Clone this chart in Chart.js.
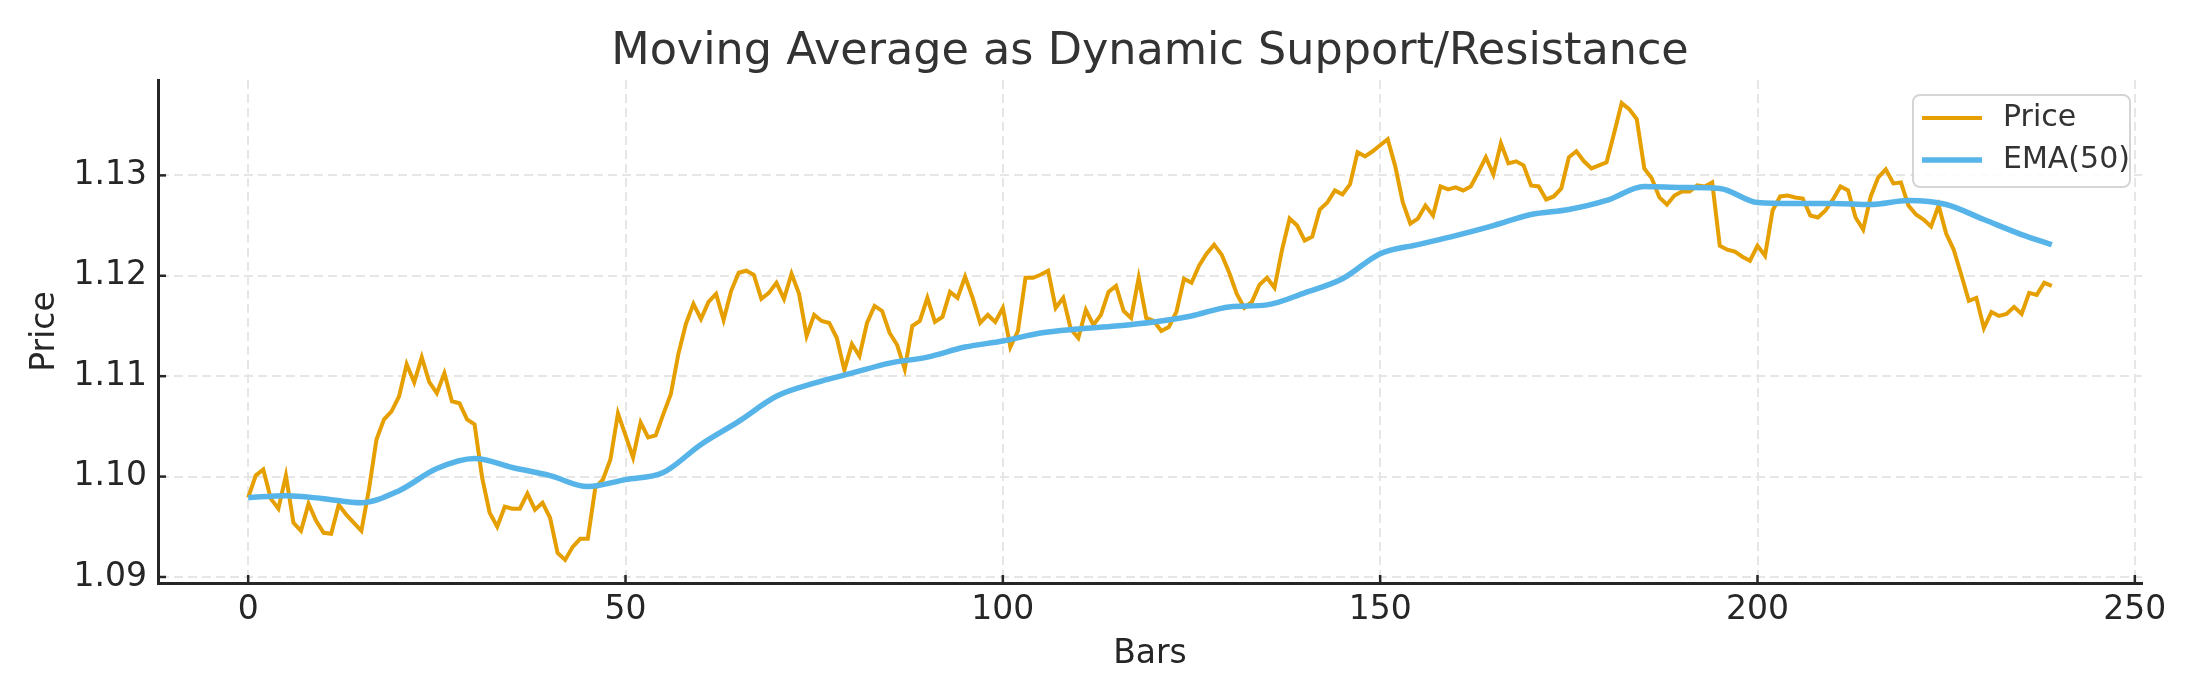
<!DOCTYPE html>
<html>
<head>
<meta charset="utf-8">
<title>Moving Average as Dynamic Support/Resistance</title>
<script src="https://cdn.jsdelivr.net/npm/chart.js@4.4.1/dist/chart.umd.min.js"></script>
<style>
  body { margin: 0; background: #fff; }
  #wrap { width: 2200px; height: 700px; }
</style>
</head>
<body>
<div id="wrap"><canvas id="maChart" width="2200" height="700"></canvas></div>
<script>
// price per bar (bar index = position in the array)
const priceValues = [
  1.0979, 1.1001, 1.1007, 1.0978, 1.0968, 1.1001, 1.0954, 1.0946, 1.0973, 1.0956,
  1.0944, 1.0943, 1.0972, 1.0962, 1.0954, 1.0946, 1.0987, 1.1037, 1.1057, 1.1065,
  1.1080, 1.1112, 1.1094, 1.1119, 1.1094, 1.1083, 1.1103, 1.1075, 1.1073, 1.1057,
  1.1052, 1.0999, 1.0964, 1.0950, 1.0970, 1.0968, 1.0968, 1.0983, 1.0967, 1.0974,
  1.0959, 1.0924, 1.0917, 1.0930, 1.0938, 1.0938, 1.0989, 1.0997, 1.1017, 1.1063,
  1.1041, 1.1019, 1.1054, 1.1039, 1.1041, 1.1062, 1.1082, 1.1122, 1.1152, 1.1172,
  1.1157, 1.1174, 1.1182, 1.1156, 1.1185, 1.1203, 1.1205, 1.1201, 1.1177, 1.1183,
  1.1193, 1.1177, 1.1202, 1.1182, 1.1140, 1.1161, 1.1155, 1.1153, 1.1138, 1.1106,
  1.1132, 1.1120, 1.1153, 1.1170, 1.1165, 1.1143, 1.1131, 1.1107, 1.1150, 1.1155,
  1.1178, 1.1154, 1.1159, 1.1184, 1.1178, 1.1199, 1.1178, 1.1153, 1.1161, 1.1154,
  1.1168, 1.1129, 1.1145, 1.1198, 1.1198, 1.1201, 1.1205, 1.1168, 1.1178, 1.1147,
  1.1138, 1.1166, 1.1151, 1.1161, 1.1184, 1.1190, 1.1165, 1.1158, 1.1198, 1.1158,
  1.1155, 1.1145, 1.1149, 1.1164, 1.1197, 1.1193, 1.1210, 1.1222, 1.1231, 1.1221,
  1.1203, 1.1182, 1.1168, 1.1174, 1.1191, 1.1198, 1.1188, 1.1226, 1.1257, 1.1250,
  1.1235, 1.1239, 1.1266, 1.1273, 1.1285, 1.1281, 1.1291, 1.1323, 1.1319, 1.1324,
  1.1330, 1.1336, 1.1309, 1.1273, 1.1252, 1.1257, 1.1270, 1.1260, 1.1289, 1.1286,
  1.1288, 1.1285, 1.1289, 1.1303, 1.1318, 1.1301, 1.1332, 1.1312, 1.1314, 1.1310,
  1.1290, 1.1289, 1.1276, 1.1279, 1.1287, 1.1318, 1.1324, 1.1314, 1.1307, 1.1310,
  1.1313, 1.1342, 1.1372, 1.1366, 1.1356, 1.1307, 1.1297, 1.1278, 1.1271, 1.1280,
  1.1284, 1.1284, 1.1290, 1.1289, 1.1293, 1.1230, 1.1226, 1.1224, 1.1219, 1.1215,
  1.1230, 1.1220, 1.1265, 1.1279, 1.1280, 1.1278, 1.1277, 1.1260, 1.1258, 1.1265,
  1.1276, 1.1289, 1.1285, 1.1258, 1.1246, 1.1279, 1.1298, 1.1306, 1.1292, 1.1293,
  1.1270, 1.1261, 1.1256, 1.1249, 1.1270, 1.1242, 1.1226, 1.1201, 1.1175, 1.1178,
  1.1148, 1.1164, 1.1160, 1.1162, 1.1169, 1.1162, 1.1183, 1.1181, 1.1193, 1.1190
];
const priceBars = priceValues.map((v, i) => i);

// EMA(50) every few bars
const emaBars = [0, 5, 10, 15, 20, 25, 30, 35, 40, 45, 50, 55, 60, 65, 70, 75, 80, 85, 90, 95,
  100, 105, 110, 115, 120, 125, 130, 135, 140, 145, 150, 155, 160, 165, 170, 175, 180, 185,
  190, 195, 200, 205, 210, 215, 220, 225, 230, 235, 239];
const emaValues = [1.0979, 1.0981, 1.0978, 1.0974, 1.0986, 1.1008, 1.1018, 1.1009, 1.1001, 1.0990,
  1.0997, 1.1004, 1.1032, 1.1055, 1.1080, 1.1093, 1.1103, 1.1113, 1.1119, 1.1129,
  1.1135, 1.1143, 1.1147, 1.1150, 1.1154, 1.1160, 1.1169, 1.1171, 1.1183, 1.1197,
  1.1222, 1.1231, 1.1240, 1.1250, 1.1261, 1.1266, 1.1275, 1.1289, 1.1288, 1.1287,
  1.1273, 1.1272, 1.1272, 1.1271, 1.1275, 1.1271, 1.1256, 1.1241, 1.1231];

const xTicksStep = 50;
const yTicksStep = 0.01;

const FONT = "'DejaVu Sans', 'Liberation Sans', sans-serif";
const TEXT = "#262626";

// matplotlib style ticks pointing inwards + framed legend
const mplExtras = {
  id: "mplExtras",
  afterDraw(chart) {
    const ctx = chart.ctx;
    const area = chart.chartArea;
    const xs = chart.scales.x;
    const ys = chart.scales.y;

    ctx.save();
    ctx.strokeStyle = TEXT;
    ctx.lineWidth = 2.5;
    xs.ticks.forEach((t) => {
      const px = xs.getPixelForValue(t.value);
      ctx.beginPath();
      ctx.moveTo(px, area.bottom);
      ctx.lineTo(px, area.bottom - 8);
      ctx.stroke();
    });
    ys.ticks.forEach((t) => {
      const py = ys.getPixelForValue(t.value);
      ctx.beginPath();
      ctx.moveTo(area.left, py);
      ctx.lineTo(area.left + 8, py);
      ctx.stroke();
    });

    // legend box
    const w = 217, h = 92;
    const lx = area.right - 12 - w;
    const ly = area.top + 15;
    ctx.beginPath();
    ctx.roundRect(lx, ly, w, h, 7);
    ctx.fillStyle = "rgba(255,255,255,0.85)";
    ctx.fill();
    ctx.strokeStyle = "#d5d5d5";
    ctx.lineWidth = 2;
    ctx.stroke();

    ctx.font = "30px " + FONT;
    ctx.textBaseline = "middle";
    chart.data.datasets.forEach((ds, i) => {
      const rowY = ly + 23 + i * 42;
      ctx.strokeStyle = ds.borderColor;
      ctx.lineWidth = ds.borderWidth;
      ctx.beginPath();
      ctx.moveTo(lx + 9, rowY);
      ctx.lineTo(lx + 69, rowY);
      ctx.stroke();
      ctx.fillStyle = "#333333";
      ctx.fillText(ds.label, lx + 90, rowY);
    });
    ctx.restore();
  }
};

const ctx = document.getElementById("maChart").getContext("2d");

new Chart(ctx, {
  type: "line",
  data: {
    datasets: [
      {
        label: "Price",
        data: priceBars.map((b, i) => ({ x: b, y: priceValues[i] })),
        borderColor: "#E69F00",
        borderWidth: 4,
        pointRadius: 0,
        tension: 0,
        order: 2
      },
      {
        label: "EMA(50)",
        data: emaBars.map((b, i) => ({ x: b, y: emaValues[i] })),
        borderColor: "#56B4E9",
        borderWidth: 5.5,
        pointRadius: 0,
        cubicInterpolationMode: "monotone",
        order: 1
      }
    ]
  },
  options: {
    responsive: false,
    animation: false,
    devicePixelRatio: 1,
    layout: { padding: { left: 0, right: 58, top: 0, bottom: 0 } },
    plugins: {
      legend: { display: false },
      tooltip: { enabled: false },
      title: {
        display: true,
        fullSize: false,
        text: "Moving Average as Dynamic Support/Resistance",
        color: "#333333",
        font: { family: FONT, size: 44.5, weight: "normal" },
        padding: { top: 26, bottom: 0.6 }
      }
    },
    scales: {
      x: {
        type: "linear",
        min: -11.95,
        max: 250.95,
        afterFit(scale) {
          scale.height = 117;
          scale.paddingLeft = 0;
          scale.paddingRight = 0;
        },
        ticks: {
          stepSize: xTicksStep,
          includeBounds: false,
          color: TEXT,
          padding: 8,
          maxRotation: 0,
          font: { family: FONT, size: 33 },
          callback: (v) => String(v)
        },
        grid: { color: "#e6e6e6", lineWidth: 2, drawTicks: false },
        border: { display: true, color: TEXT, width: 3, dash: [9, 5] },
        title: {
          display: true,
          text: "Bars",
          color: TEXT,
          font: { family: FONT, size: 33 },
          padding: { top: 0, bottom: 26 }
        }
      },
      y: {
        type: "linear",
        min: 1.0894,
        max: 1.1395,
        afterFit(scale) {
          scale.width = 158;
          scale.paddingTop = 0;
          scale.paddingBottom = 0;
        },
        ticks: {
          stepSize: yTicksStep,
          includeBounds: false,
          color: TEXT,
          padding: 11,
          font: { family: FONT, size: 33 },
          callback: (v) => Number(v).toFixed(2)
        },
        grid: { color: "#e6e6e6", lineWidth: 2, drawTicks: false },
        border: { display: true, color: TEXT, width: 3, dash: [9, 5] },
        title: {
          display: true,
          text: "Price",
          color: TEXT,
          font: { family: FONT, size: 33 },
          padding: { top: 26, bottom: 0 }
        }
      }
    }
  },
  plugins: [mplExtras]
});
</script>
</body>
</html>
